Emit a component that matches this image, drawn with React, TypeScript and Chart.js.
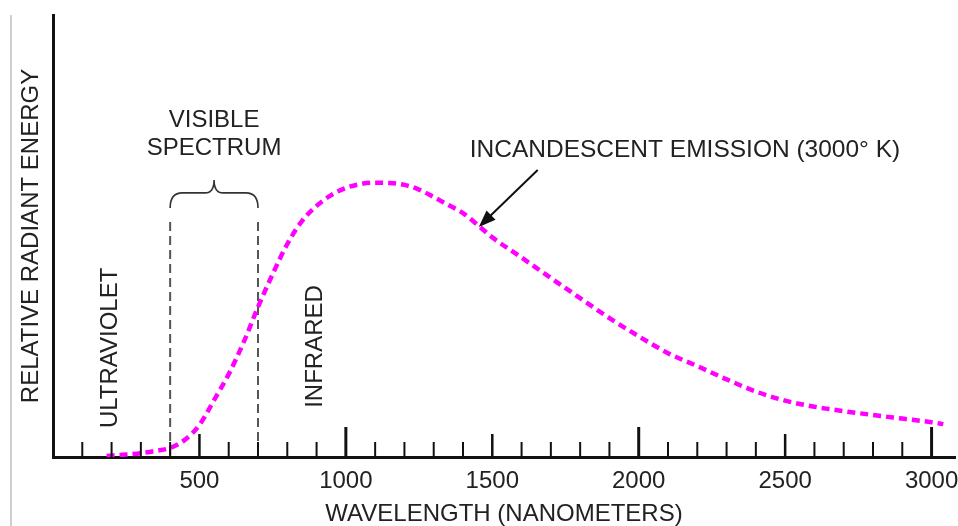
import React, { useEffect, useRef } from "react";
import { Chart, registerables } from "chart.js";

Chart.register(...registerables);

// ---- data ----
const wavelengths = [183, 250, 300, 350, 400, 450, 500, 550, 600, 650, 700, 750, 800, 850, 900, 950, 1000, 1050, 1100, 1150, 1200, 1250, 1300, 1350, 1400, 1450, 1500, 1600, 1700, 1800, 1900, 2000, 2100, 2200, 2300, 2400, 2500, 2600, 2700, 2800, 2900, 3000, 3040];
const emission = [0.4, 0.9, 1.4, 2.2, 3.3, 6.2, 11.6, 20.6, 30, 41.3, 54.3, 66.2, 77.1, 85.4, 90.9, 94.8, 97.4, 98.8, 99.3, 99.2, 98.5, 96.8, 94.1, 91.2, 88.3, 84, 79.5, 72.2, 64.8, 57.5, 50.3, 43.7, 37.6, 32.9, 28.1, 23.7, 20.4, 18.2, 16.6, 15.2, 13.9, 12.6, 11.9];
const tickLabels = [500, 1000, 1500, 2000, 2500, 3000];
const minorTicks = Array.from({ length: 30 }, (_, i) => (i + 1) * 100);
const visibleRange = [400, 700];
const regionLabels = [
  { text: "ULTRAVIOLET", nm: 195, val: 39.5 },
  { text: "INFRARED", nm: 896, val: 40 },
];
const visibleText = ["VISIBLE", "SPECTRUM"];
const emissionText = "INCANDESCENT EMISSION (3000° K)";
const xTitle = "WAVELENGTH (NANOMETERS)";
const yTitle = "RELATIVE RADIANT ENERGY";

const FONT = '"Liberation Sans", Arial, Helvetica, sans-serif';

const annotations = {
  id: "annotations",
  beforeDatasetsDraw(chart: any) {
    const { ctx, scales } = chart;
    const x = scales.x, y = scales.y;
    ctx.save();
    ctx.strokeStyle = "#555";
    ctx.lineWidth = 2;
    ctx.setLineDash([9, 5]);
    for (const nm of visibleRange) {
      const px = x.getPixelForValue(nm);
      ctx.beginPath();
      ctx.moveTo(px, y.getPixelForValue(85.1));
      ctx.lineTo(px, y.getPixelForValue(0));
      ctx.stroke();
    }
    ctx.restore();
  },
  afterDatasetsDraw(chart: any) {
    const { ctx, scales } = chart;
    const x = scales.x, y = scales.y;
    const base = y.getPixelForValue(0);
    ctx.save();
    // tick marks (inside, upward)
    ctx.strokeStyle = "#111";
    for (const v of minorTicks) {
      const px = x.getPixelForValue(v);
      let len = 15, w = 2;
      if (v % 1000 === 0) { len = 30; w = 3; }
      else if (v % 500 === 0) { len = 23; w = 2.5; }
      ctx.lineWidth = w;
      ctx.beginPath();
      ctx.moveTo(px, base);
      ctx.lineTo(px, base - len);
      ctx.stroke();
    }
    // brace
    const l = x.getPixelForValue(visibleRange[0]);
    const r = x.getPixelForValue(visibleRange[1]);
    const m = (l + r) / 2;
    const yEnd = y.getPixelForValue(90.1);
    const yMid = y.getPixelForValue(95.6);
    const yTop = y.getPixelForValue(100.3);
    ctx.strokeStyle = "#333";
    ctx.lineWidth = 1.6;
    ctx.beginPath();
    ctx.moveTo(l, yEnd);
    ctx.quadraticCurveTo(l, yMid, l + 12, yMid);
    ctx.lineTo(m - 9, yMid);
    ctx.quadraticCurveTo(m, yMid, m, yTop);
    ctx.quadraticCurveTo(m, yMid, m + 9, yMid);
    ctx.lineTo(r - 12, yMid);
    ctx.quadraticCurveTo(r, yMid, r, yEnd);
    ctx.stroke();
    // texts
    ctx.fillStyle = "#222";
    ctx.font = `24px ${FONT}`;
    ctx.textAlign = "center";
    ctx.textBaseline = "middle";
    ctx.fillText(visibleText[0], m, y.getPixelForValue(122));
    ctx.fillText(visibleText[1], m, y.getPixelForValue(111.9));
    ctx.textAlign = "left";
    ctx.font = `24.5px ${FONT}`;
    ctx.fillText(emissionText, x.getPixelForValue(1423), y.getPixelForValue(111.1));
    ctx.font = `24px ${FONT}`;
    for (const lab of regionLabels) {
      ctx.save();
      ctx.translate(x.getPixelForValue(lab.nm), y.getPixelForValue(lab.val));
      ctx.rotate(-Math.PI / 2);
      ctx.textAlign = "center";
      ctx.fillText(lab.text, 0, 0);
      ctx.restore();
    }
    // arrow
    const ax1 = x.getPixelForValue(1655), ay1 = y.getPixelForValue(103.9);
    const ax2 = x.getPixelForValue(1454), ay2 = y.getPixelForValue(83.3);
    const ang = Math.atan2(ay2 - ay1, ax2 - ax1);
    const hl = 17, hw = 6.5;
    ctx.strokeStyle = "#111";
    ctx.fillStyle = "#111";
    ctx.lineWidth = 2;
    ctx.beginPath();
    ctx.moveTo(ax1, ay1);
    ctx.lineTo(ax2 - Math.cos(ang) * hl * 0.8, ay2 - Math.sin(ang) * hl * 0.8);
    ctx.stroke();
    ctx.beginPath();
    ctx.moveTo(ax2, ay2);
    ctx.lineTo(ax2 - Math.cos(ang) * hl - Math.sin(ang) * hw, ay2 - Math.sin(ang) * hl + Math.cos(ang) * hw);
    ctx.lineTo(ax2 - Math.cos(ang) * hl + Math.sin(ang) * hw, ay2 - Math.sin(ang) * hl - Math.cos(ang) * hw);
    ctx.closePath();
    ctx.fill();
    ctx.restore();
  },
};

export default function App() {
  const ref = useRef<HTMLCanvasElement | null>(null);
  useEffect(() => {
    if (!ref.current) return;
    Chart.defaults.font.family = FONT;
    const chart = new Chart(ref.current, {
      type: "line",
      data: {
        datasets: [
          {
            data: wavelengths.map((w, i) => ({ x: w, y: emission[i] })),
            borderColor: "#ff00ff",
            borderWidth: 4.5,
            borderDash: [8, 5],
            pointRadius: 0,
            fill: false,
            cubicInterpolationMode: "monotone",
          },
        ],
      },
      options: {
        responsive: false,
        animation: false,
        devicePixelRatio: 1,
        layout: { padding: { top: 15, right: 3, left: 0, bottom: 0 } },
        plugins: { legend: { display: false }, tooltip: { enabled: false } },
        scales: {
          x: {
            type: "linear",
            min: 0,
            max: 3080,
            afterFit: (s: any) => {
              s.height = 69;
              s.paddingLeft = 0;
              s.paddingRight = 0;
            },
            grid: { display: false, drawTicks: false },
            border: { display: true, color: "#111", width: 3 },
            ticks: {
              stepSize: 100,
              includeBounds: false,
              autoSkip: false,
              maxRotation: 0,
              padding: 10,
              color: "#222",
              font: { family: FONT, size: 24 },
              callback: (v: any) => (tickLabels.includes(v) ? String(v) : ""),
            },
            title: {
              display: true,
              text: xTitle,
              color: "#222",
              font: { family: FONT, size: 24, lineHeight: 1 },
              padding: { top: 0, bottom: 0 },
            },
          },
          y: {
            min: 0,
            max: 160,
            afterFit: (s: any) => { s.width = 53; },
            grid: { display: false, drawTicks: false },
            border: { display: true, color: "#111", width: 3 },
            ticks: { display: false },
            title: {
              display: true,
              text: yTitle,
              color: "#222",
              font: { family: FONT, size: 24, lineHeight: 1 },
              padding: { top: 19, bottom: 0 },
            },
          },
        },
      },
      plugins: [annotations],
    } as any);
    return () => chart.destroy();
  }, []);
  return (
    <div style={{ position: "fixed", left: 0, top: 0, width: 958, height: 526, background: "#fff" }}>
      <div style={{ position: "absolute", left: 10, top: 15, width: 2, height: 511, background: "#cfcfcf" }} />
      <canvas ref={ref} width={958} height={526} style={{ display: "block", width: 958, height: 526 }} />
    </div>
  );
}
